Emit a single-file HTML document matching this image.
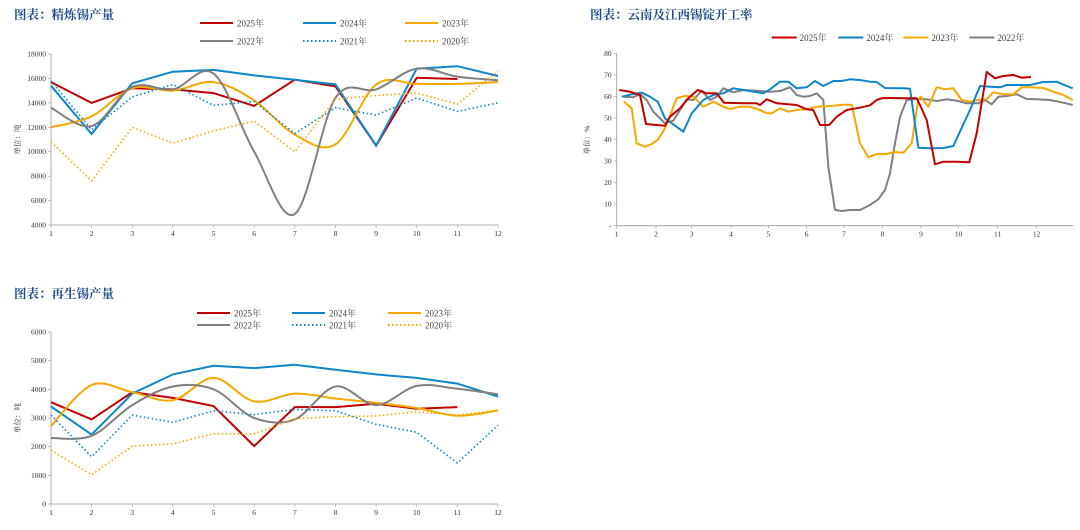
<!DOCTYPE html>
<html><head><meta charset="utf-8"><style>
body{margin:0;background:#fff;width:1080px;height:530px;overflow:hidden}
svg{display:block}
text{font-family:"Liberation Serif","Noto Serif CJK SC",serif;fill:#333}
.t{font-family:"Liberation Serif","Noto Serif CJK SC",serif;font-weight:bold;fill:#1f4e8c;font-size:12.5px}
.tk{font-size:7.5px}
.lg{font-size:9px;fill:#444}
</style></head><body>
<svg id="s" width="1080" height="530" xmlns="http://www.w3.org/2000/svg">
<text class="t" x="14" y="19">图表：精炼锡产量</text>
<text class="t" x="590" y="19">图表：云南及江西锡锭开工率</text>
<text class="t" x="14" y="298">图表：再生锡产量</text>
<g id="g"></g>
</svg>
<script>
const NS="http://www.w3.org/2000/svg",G=document.getElementById('g');
function el(t,a,txt){const e=document.createElementNS(NS,t);for(const k in a)e.setAttribute(k,a[k]);if(txt!=null)e.textContent=txt;G.appendChild(e);return e;}
const C={r:'#c00000',b:'#0f86c8',o:'#f5a800',g:'#808080'};
function path(pts,smooth){
 if(!smooth) return 'M'+pts.map(p=>p[0].toFixed(1)+','+p[1].toFixed(1)).join('L');
 let d='M'+pts[0][0]+','+pts[0][1];
 for(let i=0;i<pts.length-1;i++){const p0=pts[i-1]||pts[i],p1=pts[i],p2=pts[i+1],p3=pts[i+2]||p2;
  const c1=[p1[0]+(p2[0]-p0[0])/6,p1[1]+(p2[1]-p0[1])/6],c2=[p2[0]-(p3[0]-p1[0])/6,p2[1]-(p3[1]-p1[1])/6];
  d+='C'+c1.join(',')+' '+c2.join(',')+' '+p2.join(',');}
 return d;}
function chart(o){
 const{x0,x1,y0,y1,min,max,step,series,lab,legY,legX}=o;
 const sx=i=>x0+(x1-x0)*i/11, sy=v=>y1-(v-min)/(max-min)*(y1-y0);
 el('line',{x1:x0,y1:y0,x2:x0,y2:y1,stroke:'#999','stroke-width':0.8});
 el('line',{x1:x0,y1:y1,x2:x1,y2:y1,stroke:'#999','stroke-width':0.8});
 for(let v=min;v<=max;v+=step){el('line',{x1:x0-3,y1:sy(v),x2:x0,y2:sy(v),stroke:'#999','stroke-width':0.6});
  el('text',{x:x0-5,y:sy(v)+2.5,'text-anchor':'end',class:'tk'},String(v));}
 for(let i=0;i<12;i++){el('line',{x1:sx(i),y1:y1,x2:sx(i),y2:y1+3,stroke:'#999','stroke-width':0.6});
  el('text',{x:sx(i),y:y1+11,'text-anchor':'middle',class:'tk'},String(i+1));}
 el('text',{x:0,y:0,class:'tk',transform:`translate(${x0-31},${(y0+y1)/2}) rotate(-90)`,'text-anchor':'middle'},'单位：吨');
 series.forEach((s,k)=>{const pts=s.d.map((v,i)=>[sx(i),sy(v)]);
  const a={d:path(pts,s.sm),fill:'none',stroke:C[s.c],'stroke-width':2};
  if(s.dot){a['stroke-dasharray']='1.5,2.5';a['stroke-width']=1.6;}
  el('path',a);
  const lx=legX[k%3],ly=legY[Math.floor(k/3)];
  const la={x1:lx,y1:ly,x2:lx+33,y2:ly,stroke:C[s.c],'stroke-width':2};if(s.dot){la['stroke-dasharray']='1.5,2.5';}
  el('line',la);el('text',{x:lx+37,y:ly+3.5,class:'lg'},s.n);
 });
}
chart({x0:51,x1:498,y0:54,y1:225,min:4000,max:18000,step:2000,legY:[23,41],legX:[200,303,405],series:[
{n:'2025年',c:'r',d:[15700,14000,15200,15100,14800,13750,15900,15350,10500,16050,15950]},
{n:'2024年',c:'b',d:[15400,11450,15600,16550,16700,16250,15900,15500,10500,16800,17000,16200]},
{n:'2023年',c:'o',sm:1,d:[12000,12900,15200,15000,15700,14200,11400,10600,15500,15550,15550,15700]},
{n:'2022年',c:'g',sm:1,d:[13600,12100,15300,15100,16400,10000,4900,14400,15100,16800,16150,15850]},
{n:'2021年',c:'b',dot:1,d:[15800,11800,14500,15500,13800,14100,11500,13600,13000,14400,13300,14000]},
{n:'2020年',c:'o',dot:1,d:[10800,7600,12000,10700,11700,12500,10000,14300,14600,14800,13900,16600]}]});
chart({x0:51,x1:498,y0:332,y1:504,min:0,max:6000,step:1000,legY:[313,325],legX:[197,292,388],series:[
{n:'2025年',c:'r',d:[3550,2950,3900,3700,3420,2020,3380,3380,3500,3320,3380]},
{n:'2024年',c:'b',d:[3400,2420,3850,4520,4820,4740,4860,4680,4520,4400,4200,3750]},
{n:'2023年',c:'o',sm:1,d:[2720,4150,3900,3620,4400,3580,3850,3680,3530,3350,3080,3260]},
{n:'2022年',c:'g',sm:1,d:[2300,2380,3450,4100,4000,3000,2950,4100,3450,4120,4020,3830]},
{n:'2021年',c:'b',dot:1,d:[3100,1650,3100,2850,3250,3120,3300,3250,2780,2500,1430,2750]},
{n:'2020年',c:'o',dot:1,d:[1880,1020,2020,2100,2450,2450,2980,3050,3070,3220,3100,3270]}]});
// chart 2 (zoom coords, scale 1/3)
const W={
r:[148,270,180,275,210,285,228,372,285,377,300,350,330,325,355,295,383,270,410,280,440,280,462,308,520,310,560,310,570,315,590,298,620,310,680,315,710,328,730,330,750,375,778,375,800,350,830,330,870,323,900,316,920,300,935,295,960,294,1000,295,1040,295,1050,315,1070,360,1095,493,1120,485,1160,485,1198,487,1220,400,1250,216,1275,235,1300,228,1330,225,1355,233,1383,231],
b:[155,290,185,283,215,278,240,290,263,305,285,355,340,395,365,340,400,300,430,285,460,280,490,265,520,270,550,275,580,280,600,268,630,245,655,245,680,265,710,262,735,243,760,258,790,243,815,243,840,238,870,240,900,245,920,246,945,264,1000,265,1020,266,1045,443,1080,445,1120,444,1150,438,1200,330,1230,258,1260,260,1290,262,1310,255,1350,255,1380,255,1420,246,1460,245,1490,258,1508,265],
o:[162,305,185,325,200,430,225,440,245,432,265,418,285,385,320,295,345,288,370,290,400,320,430,305,460,320,480,327,510,320,540,320,570,330,590,340,605,340,630,325,655,335,680,330,710,328,740,320,780,318,820,314,845,314,870,430,895,472,920,462,950,462,975,456,1000,458,1025,430,1045,298,1052,290,1075,320,1100,262,1125,268,1150,265,1175,300,1200,305,1225,300,1250,298,1270,277,1300,283,1330,283,1355,262,1385,262,1420,264,1450,275,1480,285,1508,300],
g:[160,290,190,292,210,282,230,300,250,335,285,370,310,362,330,330,350,298,370,300,395,272,420,300,440,290,460,265,490,277,520,270,560,272,600,275,630,273,660,262,680,285,700,290,720,288,740,280,760,300,775,500,795,630,815,633,840,630,870,630,900,615,925,598,945,570,960,520,975,430,990,350,1010,300,1040,297,1070,298,1100,303,1130,298,1160,302,1190,310,1225,310,1245,300,1265,313,1285,290,1310,288,1340,283,1370,297,1400,298,1440,300,1480,308,1508,315]};
const X=z=>570+z/3,Y=z=>z/3;
el('line',{x1:X(140),y1:Y(160),x2:X(140),y2:Y(677),stroke:'#999','stroke-width':0.8});
el('line',{x1:X(140),y1:Y(677),x2:X(1510),y2:Y(677),stroke:'#999','stroke-width':0.8});
for(let v=0;v<=80;v+=10){const y=Y(677-v*6.4625);el('line',{x1:X(140)-3,y1:y,x2:X(140),y2:y,stroke:'#999','stroke-width':0.6});
 el('text',{x:X(140)-5,y:y+2.5,'text-anchor':'end',class:'tk'},v?String(v):'-');}
[140,258,365,483,595,710,822,937,1053,1166,1283,1400].forEach((z,i)=>{el('line',{x1:X(z),y1:Y(677),x2:X(z),y2:Y(677)+3,stroke:'#999','stroke-width':0.6});
 el('text',{x:X(z),y:Y(677)+11,'text-anchor':'middle',class:'tk'},String(i+1));});
el('text',{x:0,y:0,class:'tk',transform:`translate(${X(140)-27},140) rotate(-90)`,'text-anchor':'middle'},'单位：%');
['g','o','b','r'].forEach(c=>{const a=W[c],p=[];for(let i=0;i<a.length;i+=2)p.push([X(a[i]),Y(a[i+1])]);
 el('path',{d:path(p,0),fill:'none',stroke:C[c],'stroke-width':2,'stroke-linejoin':'round'});});
[['r','2025年',605],['b','2024年',805],['o','2023年',1000],['g','2022年',1198]].forEach(([c,n,z])=>{
 el('line',{x1:X(z),y1:37.5,x2:X(z)+25,y2:37.5,stroke:C[c],'stroke-width':2});el('text',{x:X(z)+28,y:41,class:'lg'},n);});
</script>
</body></html>
